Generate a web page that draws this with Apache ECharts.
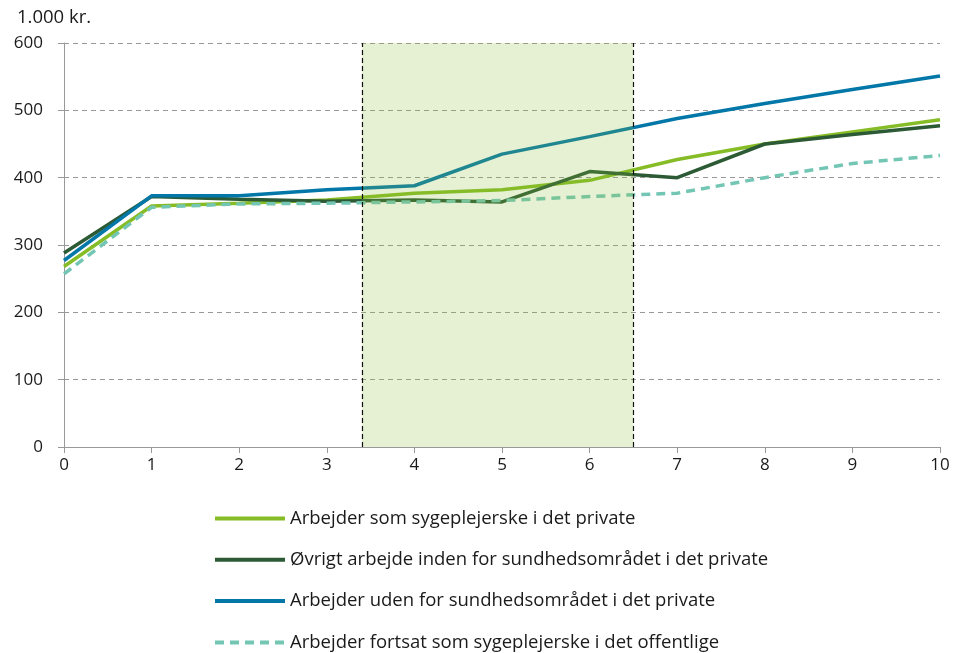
<!DOCTYPE html>
<html>
<head>
<meta charset="utf-8">
<script src="https://cdn.jsdelivr.net/npm/echarts@6/dist/echarts.min.js"></script>
<style>
  html, body { margin: 0; padding: 0; background: #fff; }
  #chart { width: 956px; height: 653px; }
</style>
</head>
<body>
<div id="chart"></div>
<script>
// år efter (0-10) og indkomst i 1.000 kr.
const years = [0, 1, 2, 3, 4, 5, 6, 7, 8, 9, 10]
const names = [
  'Arbejder som sygeplejerske i det private',
  'Øvrigt arbejde inden for sundhedsområdet i det private',
  'Arbejder uden for sundhedsområdet i det private',
  'Arbejder fortsat som sygeplejerske i det offentlige'
]
const sygPrivat = [268, 358, 362, 367, 377, 382, 396, 427, 450, 468, 486]
const oevrigSund = [288, 372, 368, 365, 367, 364, 409, 400, 450, 464, 477]
const udenSund = [277, 373, 373, 382, 388, 435, 461, 488, 510, 531, 551]
const offentlig = [257, 356, 361, 362, 364, 366, 372, 377, 400, 421, 433]
const bandStart = 3.4
const bandEnd = 6.5

const colors = ['#86bc25', '#2c5a34', '#0277a8', '#74c6b4']
const font = 'Open Sans'

const pairs = arr => years.map((x, i) => [x, arr[i]])

const chart = echarts.init(document.getElementById('chart'))

const lineSeries = [sygPrivat, oevrigSund, udenSund, offentlig].map((arr, i) => ({
  name: names[i],
  type: 'line',
  data: pairs(arr),
  symbol: 'none',
  z: 2,
  lineStyle: {
    color: colors[i],
    width: 3.5,
    type: i === 3 ? [9, 6] : 'solid'
  },
  itemStyle: { color: colors[i] }
}))

chart.setOption({
  animation: false,
  textStyle: { fontFamily: font },
  grid: { left: 64, right: 16, top: 43, bottom: 206 },
  legend: {
    data: names,
    orient: 'vertical',
    left: 213,
    top: 509,
    height: 200,
    padding: 0,
    itemWidth: 70,
    itemHeight: 18,
    itemGap: 22.3,
    itemStyle: { opacity: 0 },
    lineStyle: { width: 4 },
    textStyle: { fontSize: 18.5, color: '#1a1a1a', fontFamily: font }
  },
  xAxis: {
    type: 'value',
    min: 0,
    max: 10,
    interval: 1,
    axisLine: { lineStyle: { color: '#999' } },
    axisTick: { show: true, length: 6, lineStyle: { color: '#999' } },
    axisLabel: { fontSize: 17, color: '#1a1a1a', margin: 10 },
    splitLine: { show: false }
  },
  yAxis: {
    type: 'value',
    min: 0,
    max: 600,
    interval: 100,
    name: '1.000 kr.',
    nameLocation: 'end',
    nameGap: 16,
    nameTextStyle: { fontSize: 18.5, color: '#1a1a1a', align: 'left', padding: [0, 0, 0, -47] },
    axisLine: { show: true, lineStyle: { color: '#999' } },
    axisTick: { show: true, length: 6, lineStyle: { color: '#999' } },
    axisLabel: { fontSize: 17, color: '#1a1a1a', margin: 21 },
    splitLine: { show: true, lineStyle: { color: '#999', type: [5, 4] } }
  },
  series: [
    ...lineSeries,
    {
      // skraveret periode oven på linjerne
      name: 'periode',
      type: 'line',
      data: [],
      z: 5,
      silent: true,
      markArea: {
        silent: true,
        z: 10,
        itemStyle: { color: 'rgba(140,190,60,0.22)' },
        data: [[{ xAxis: bandStart }, { xAxis: bandEnd }]]
      },
      markLine: {
        silent: true,
        z: 11,
        symbol: 'none',
        label: { show: false },
        lineStyle: { color: '#111', type: [5, 3], width: 1.2 },
        data: [{ xAxis: bandStart }, { xAxis: bandEnd }]
      }
    }
  ]
})
</script>
</body>
</html>
